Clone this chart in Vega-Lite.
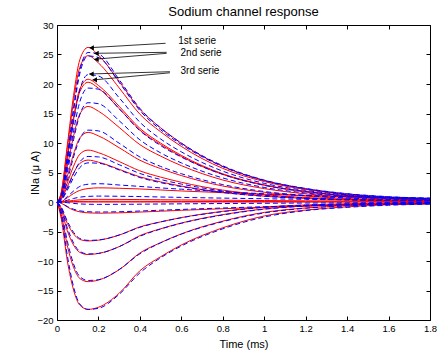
{
  "$schema": "https://vega.github.io/schema/vega-lite/v6.json",
  "width": 373,
  "height": 295,
  "autosize": {"type": "none"},
  "padding": {"left": 57, "top": 25, "right": 7, "bottom": 38},
  "background": "white",
  "title": {"text": "Sodium channel response", "font": "Liberation Sans", "fontSize": 13, "fontWeight": "normal", "color": "black", "offset": 1},
  "config": {
    "view": {"stroke": null},
    "axis": {"domainColor": "black", "tickColor": "black", "labelColor": "black", "titleColor": "black", "labelFont": "Liberation Sans", "titleFont": "Liberation Sans", "labelFontSize": 9.5, "titleFontSize": 11, "titleFontWeight": "normal", "grid": false, "tickSize": -4, "domainWidth": 1, "tickWidth": 1, "labelFlush": false, "labelOverlap": false}
  },
  "datasets": {
    "red": [
      {"c":1,"t":0,"v":0},{"c":1,"t":0.02,"v":1.57},{"c":1,"t":0.05,"v":9.69},{"c":1,"t":0.08,"v":18.08},{"c":1,"t":0.11,"v":24.1},{"c":1,"t":0.15,"v":26.2},{"c":1,"t":0.2,"v":24.89},{"c":1,"t":0.3,"v":20.44},{"c":1,"t":0.4,"v":15.72},{"c":1,"t":0.5,"v":12.58},{"c":1,"t":0.6,"v":9.96},{"c":1,"t":0.8,"v":6.03},{"c":1,"t":1.0,"v":3.67},{"c":1,"t":1.2,"v":2.23},{"c":1,"t":1.4,"v":1.31},{"c":1,"t":1.6,"v":0.79},{"c":1,"t":1.8,"v":0.52},
      {"c":2,"t":0,"v":0},{"c":2,"t":0.02,"v":1.49},{"c":2,"t":0.05,"v":9.18},{"c":2,"t":0.08,"v":17.11},{"c":2,"t":0.11,"v":22.82},{"c":2,"t":0.15,"v":24.8},{"c":2,"t":0.2,"v":23.56},{"c":2,"t":0.3,"v":19.34},{"c":2,"t":0.4,"v":14.88},{"c":2,"t":0.5,"v":11.9},{"c":2,"t":0.6,"v":9.42},{"c":2,"t":0.8,"v":5.7},{"c":2,"t":1.0,"v":3.47},{"c":2,"t":1.2,"v":2.11},{"c":2,"t":1.4,"v":1.24},{"c":2,"t":1.6,"v":0.74},{"c":2,"t":1.8,"v":0.5},
      {"c":3,"t":0,"v":0},{"c":3,"t":0.02,"v":1.25},{"c":3,"t":0.05,"v":7.7},{"c":3,"t":0.08,"v":14.35},{"c":3,"t":0.11,"v":19.14},{"c":3,"t":0.15,"v":20.8},{"c":3,"t":0.2,"v":19.76},{"c":3,"t":0.3,"v":16.22},{"c":3,"t":0.4,"v":12.48},{"c":3,"t":0.5,"v":9.98},{"c":3,"t":0.6,"v":7.9},{"c":3,"t":0.8,"v":4.78},{"c":3,"t":1.0,"v":2.91},{"c":3,"t":1.2,"v":1.77},{"c":3,"t":1.4,"v":1.04},{"c":3,"t":1.6,"v":0.62},{"c":3,"t":1.8,"v":0.42},
      {"c":4,"t":0,"v":0},{"c":4,"t":0.02,"v":1.22},{"c":4,"t":0.05,"v":7.51},{"c":4,"t":0.08,"v":14.01},{"c":4,"t":0.11,"v":18.68},{"c":4,"t":0.15,"v":20.3},{"c":4,"t":0.2,"v":19.29},{"c":4,"t":0.3,"v":15.83},{"c":4,"t":0.4,"v":12.18},{"c":4,"t":0.5,"v":9.74},{"c":4,"t":0.6,"v":7.71},{"c":4,"t":0.8,"v":4.67},{"c":4,"t":1.0,"v":2.84},{"c":4,"t":1.2,"v":1.73},{"c":4,"t":1.4,"v":1.02},{"c":4,"t":1.6,"v":0.61},{"c":4,"t":1.8,"v":0.41},
      {"c":5,"t":0,"v":0},{"c":5,"t":0.02,"v":0.97},{"c":5,"t":0.05,"v":5.99},{"c":5,"t":0.08,"v":11.18},{"c":5,"t":0.11,"v":14.9},{"c":5,"t":0.15,"v":16.2},{"c":5,"t":0.2,"v":15.39},{"c":5,"t":0.3,"v":12.64},{"c":5,"t":0.4,"v":9.72},{"c":5,"t":0.5,"v":7.78},{"c":5,"t":0.6,"v":6.16},{"c":5,"t":0.8,"v":3.73},{"c":5,"t":1.0,"v":2.27},{"c":5,"t":1.2,"v":1.38},{"c":5,"t":1.4,"v":0.81},{"c":5,"t":1.6,"v":0.49},{"c":5,"t":1.8,"v":0.32},
      {"c":6,"t":0,"v":0},{"c":6,"t":0.02,"v":0.71},{"c":6,"t":0.05,"v":4.37},{"c":6,"t":0.08,"v":8.14},{"c":6,"t":0.11,"v":10.86},{"c":6,"t":0.15,"v":11.8},{"c":6,"t":0.2,"v":11.21},{"c":6,"t":0.3,"v":9.2},{"c":6,"t":0.4,"v":7.08},{"c":6,"t":0.5,"v":5.66},{"c":6,"t":0.6,"v":4.48},{"c":6,"t":0.8,"v":2.71},{"c":6,"t":1.0,"v":1.65},{"c":6,"t":1.2,"v":1.0},{"c":6,"t":1.4,"v":0.59},{"c":6,"t":1.6,"v":0.35},{"c":6,"t":1.8,"v":0.24},
      {"c":7,"t":0,"v":0},{"c":7,"t":0.02,"v":0.53},{"c":7,"t":0.05,"v":3.26},{"c":7,"t":0.08,"v":6.07},{"c":7,"t":0.11,"v":8.1},{"c":7,"t":0.15,"v":8.8},{"c":7,"t":0.2,"v":8.36},{"c":7,"t":0.3,"v":6.86},{"c":7,"t":0.4,"v":5.28},{"c":7,"t":0.5,"v":4.22},{"c":7,"t":0.6,"v":3.34},{"c":7,"t":0.8,"v":2.02},{"c":7,"t":1.0,"v":1.23},{"c":7,"t":1.2,"v":0.75},{"c":7,"t":1.4,"v":0.44},{"c":7,"t":1.6,"v":0.26},{"c":7,"t":1.8,"v":0.18},
      {"c":8,"t":0,"v":0},{"c":8,"t":0.02,"v":0.43},{"c":8,"t":0.05,"v":2.63},{"c":8,"t":0.08,"v":4.9},{"c":8,"t":0.11,"v":6.53},{"c":8,"t":0.15,"v":7.1},{"c":8,"t":0.2,"v":6.75},{"c":8,"t":0.3,"v":5.54},{"c":8,"t":0.4,"v":4.26},{"c":8,"t":0.5,"v":3.41},{"c":8,"t":0.6,"v":2.7},{"c":8,"t":0.8,"v":1.63},{"c":8,"t":1.0,"v":0.99},{"c":8,"t":1.2,"v":0.6},{"c":8,"t":1.4,"v":0.36},{"c":8,"t":1.6,"v":0.21},{"c":8,"t":1.8,"v":0.14},
      {"c":9,"t":0,"v":0},{"c":9,"t":0.02,"v":0.07},{"c":9,"t":0.05,"v":0.72},{"c":9,"t":0.08,"v":1.44},{"c":9,"t":0.11,"v":1.97},{"c":9,"t":0.15,"v":2.28},{"c":9,"t":0.2,"v":2.4},{"c":9,"t":0.3,"v":2.33},{"c":9,"t":0.4,"v":2.21},{"c":9,"t":0.5,"v":2.04},{"c":9,"t":0.6,"v":1.87},{"c":9,"t":0.8,"v":1.58},{"c":9,"t":1.0,"v":1.32},{"c":9,"t":1.2,"v":1.08},{"c":9,"t":1.4,"v":0.89},{"c":9,"t":1.6,"v":0.72},{"c":9,"t":1.8,"v":0.6},
      {"c":10,"t":0,"v":0},{"c":10,"t":0.02,"v":0.01},{"c":10,"t":0.05,"v":0.14},{"c":10,"t":0.08,"v":0.27},{"c":10,"t":0.11,"v":0.37},{"c":10,"t":0.15,"v":0.43},{"c":10,"t":0.2,"v":0.45},{"c":10,"t":0.3,"v":0.44},{"c":10,"t":0.4,"v":0.41},{"c":10,"t":0.5,"v":0.38},{"c":10,"t":0.6,"v":0.35},{"c":10,"t":0.8,"v":0.3},{"c":10,"t":1.0,"v":0.25},{"c":10,"t":1.2,"v":0.2},{"c":10,"t":1.4,"v":0.17},{"c":10,"t":1.6,"v":0.14},{"c":10,"t":1.8,"v":0.11},
      {"c":11,"t":0,"v":0},{"c":11,"t":0.02,"v":0},{"c":11,"t":0.05,"v":0.04},{"c":11,"t":0.08,"v":0.07},{"c":11,"t":0.11,"v":0.1},{"c":11,"t":0.15,"v":0.11},{"c":11,"t":0.2,"v":0.12},{"c":11,"t":0.3,"v":0.12},{"c":11,"t":0.4,"v":0.11},{"c":11,"t":0.5,"v":0.1},{"c":11,"t":0.6,"v":0.09},{"c":11,"t":0.8,"v":0.08},{"c":11,"t":1.0,"v":0.07},{"c":11,"t":1.2,"v":0.05},{"c":11,"t":1.4,"v":0.04},{"c":11,"t":1.6,"v":0.04},{"c":11,"t":1.8,"v":0.03},
      {"c":12,"t":0,"v":0},{"c":12,"t":0.02,"v":0},{"c":12,"t":0.05,"v":0},{"c":12,"t":0.08,"v":0},{"c":12,"t":0.11,"v":0},{"c":12,"t":0.15,"v":0},{"c":12,"t":0.2,"v":0},{"c":12,"t":0.3,"v":0},{"c":12,"t":0.4,"v":0},{"c":12,"t":0.5,"v":0},{"c":12,"t":0.6,"v":0},{"c":12,"t":0.8,"v":0},{"c":12,"t":1.0,"v":0},{"c":12,"t":1.2,"v":0},{"c":12,"t":1.4,"v":0},{"c":12,"t":1.6,"v":0},{"c":12,"t":1.8,"v":0},
      {"c":13,"t":0,"v":0},{"c":13,"t":0.02,"v":-0.19},{"c":13,"t":0.05,"v":-0.86},{"c":13,"t":0.08,"v":-1.37},{"c":13,"t":0.11,"v":-1.67},{"c":13,"t":0.15,"v":-1.84},{"c":13,"t":0.2,"v":-1.9},{"c":13,"t":0.3,"v":-1.84},{"c":13,"t":0.4,"v":-1.71},{"c":13,"t":0.5,"v":-1.56},{"c":13,"t":0.6,"v":-1.41},{"c":13,"t":0.8,"v":-1.14},{"c":13,"t":1.0,"v":-0.89},{"c":13,"t":1.2,"v":-0.7},{"c":13,"t":1.4,"v":-0.55},{"c":13,"t":1.6,"v":-0.42},{"c":13,"t":1.8,"v":-0.32},
      {"c":14,"t":0,"v":0},{"c":14,"t":0.02,"v":-0.99},{"c":14,"t":0.05,"v":-3.63},{"c":14,"t":0.08,"v":-5.41},{"c":14,"t":0.11,"v":-6.34},{"c":14,"t":0.15,"v":-6.6},{"c":14,"t":0.2,"v":-6.47},{"c":14,"t":0.3,"v":-5.61},{"c":14,"t":0.4,"v":-4.22},{"c":14,"t":0.5,"v":-3.37},{"c":14,"t":0.6,"v":-2.64},{"c":14,"t":0.8,"v":-1.58},{"c":14,"t":1.0,"v":-0.86},{"c":14,"t":1.2,"v":-0.5},{"c":14,"t":1.4,"v":-0.3},{"c":14,"t":1.6,"v":-0.17},{"c":14,"t":1.8,"v":-0.1},
      {"c":15,"t":0,"v":0},{"c":15,"t":0.02,"v":-1.34},{"c":15,"t":0.05,"v":-4.9},{"c":15,"t":0.08,"v":-7.3},{"c":15,"t":0.11,"v":-8.54},{"c":15,"t":0.15,"v":-8.9},{"c":15,"t":0.2,"v":-8.72},{"c":15,"t":0.3,"v":-7.57},{"c":15,"t":0.4,"v":-5.7},{"c":15,"t":0.5,"v":-4.54},{"c":15,"t":0.6,"v":-3.56},{"c":15,"t":0.8,"v":-2.14},{"c":15,"t":1.0,"v":-1.16},{"c":15,"t":1.2,"v":-0.67},{"c":15,"t":1.4,"v":-0.4},{"c":15,"t":1.6,"v":-0.22},{"c":15,"t":1.8,"v":-0.13},
      {"c":16,"t":0,"v":0},{"c":16,"t":0.02,"v":-2.03},{"c":16,"t":0.05,"v":-7.43},{"c":16,"t":0.08,"v":-11.07},{"c":16,"t":0.11,"v":-12.96},{"c":16,"t":0.15,"v":-13.5},{"c":16,"t":0.2,"v":-13.23},{"c":16,"t":0.3,"v":-11.48},{"c":16,"t":0.4,"v":-8.64},{"c":16,"t":0.5,"v":-6.89},{"c":16,"t":0.6,"v":-5.4},{"c":16,"t":0.8,"v":-3.24},{"c":16,"t":1.0,"v":-1.76},{"c":16,"t":1.2,"v":-1.01},{"c":16,"t":1.4,"v":-0.61},{"c":16,"t":1.6,"v":-0.34},{"c":16,"t":1.8,"v":-0.2},
      {"c":17,"t":0,"v":0},{"c":17,"t":0.02,"v":-2.73},{"c":17,"t":0.05,"v":-10.01},{"c":17,"t":0.08,"v":-14.92},{"c":17,"t":0.11,"v":-17.47},{"c":17,"t":0.15,"v":-18.2},{"c":17,"t":0.2,"v":-17.84},{"c":17,"t":0.3,"v":-15.47},{"c":17,"t":0.4,"v":-11.65},{"c":17,"t":0.5,"v":-9.28},{"c":17,"t":0.6,"v":-7.28},{"c":17,"t":0.8,"v":-4.37},{"c":17,"t":1.0,"v":-2.37},{"c":17,"t":1.2,"v":-1.37},{"c":17,"t":1.4,"v":-0.82},{"c":17,"t":1.6,"v":-0.46},{"c":17,"t":1.8,"v":-0.27}
    ],
    "blue": [
      {"c":1,"t":0,"v":0},{"c":1,"t":0.02,"v":1.02},{"c":1,"t":0.05,"v":7.68},{"c":1,"t":0.08,"v":15.87},{"c":1,"t":0.11,"v":22.27},{"c":1,"t":0.15,"v":25.34},{"c":1,"t":0.2,"v":25.09},{"c":1,"t":0.3,"v":20.74},{"c":1,"t":0.4,"v":15.87},{"c":1,"t":0.5,"v":12.54},{"c":1,"t":0.6,"v":9.98},{"c":1,"t":0.8,"v":6.14},{"c":1,"t":1.0,"v":3.71},{"c":1,"t":1.2,"v":2.3},{"c":1,"t":1.4,"v":1.41},{"c":1,"t":1.6,"v":0.9},{"c":1,"t":1.8,"v":0.64},
      {"c":2,"t":0,"v":0},{"c":2,"t":0.02,"v":1.0},{"c":2,"t":0.05,"v":7.5},{"c":2,"t":0.08,"v":15.5},{"c":2,"t":0.11,"v":21.75},{"c":2,"t":0.15,"v":24.75},{"c":2,"t":0.2,"v":24.5},{"c":2,"t":0.3,"v":20.25},{"c":2,"t":0.4,"v":15.5},{"c":2,"t":0.5,"v":12.25},{"c":2,"t":0.6,"v":9.75},{"c":2,"t":0.8,"v":6.0},{"c":2,"t":1.0,"v":3.63},{"c":2,"t":1.2,"v":2.25},{"c":2,"t":1.4,"v":1.38},{"c":2,"t":1.6,"v":0.88},{"c":2,"t":1.8,"v":0.63},
      {"c":3,"t":0,"v":0},{"c":3,"t":0.02,"v":0.87},{"c":3,"t":0.05,"v":6.54},{"c":3,"t":0.08,"v":13.52},{"c":3,"t":0.11,"v":18.97},{"c":3,"t":0.15,"v":21.58},{"c":3,"t":0.2,"v":21.36},{"c":3,"t":0.3,"v":17.66},{"c":3,"t":0.4,"v":13.52},{"c":3,"t":0.5,"v":10.68},{"c":3,"t":0.6,"v":8.5},{"c":3,"t":0.8,"v":5.23},{"c":3,"t":1.0,"v":3.16},{"c":3,"t":1.2,"v":1.96},{"c":3,"t":1.4,"v":1.2},{"c":3,"t":1.6,"v":0.76},{"c":3,"t":1.8,"v":0.55},
      {"c":4,"t":0,"v":0},{"c":4,"t":0.02,"v":0.78},{"c":4,"t":0.05,"v":5.85},{"c":4,"t":0.08,"v":12.09},{"c":4,"t":0.11,"v":16.97},{"c":4,"t":0.15,"v":19.31},{"c":4,"t":0.2,"v":19.11},{"c":4,"t":0.3,"v":15.8},{"c":4,"t":0.4,"v":12.09},{"c":4,"t":0.5,"v":9.56},{"c":4,"t":0.6,"v":7.61},{"c":4,"t":0.8,"v":4.68},{"c":4,"t":1.0,"v":2.83},{"c":4,"t":1.2,"v":1.76},{"c":4,"t":1.4,"v":1.07},{"c":4,"t":1.6,"v":0.68},{"c":4,"t":1.8,"v":0.49},
      {"c":5,"t":0,"v":0},{"c":5,"t":0.02,"v":0.68},{"c":5,"t":0.05,"v":5.1},{"c":5,"t":0.08,"v":10.54},{"c":5,"t":0.11,"v":14.79},{"c":5,"t":0.15,"v":16.83},{"c":5,"t":0.2,"v":16.66},{"c":5,"t":0.3,"v":13.77},{"c":5,"t":0.4,"v":10.54},{"c":5,"t":0.5,"v":8.33},{"c":5,"t":0.6,"v":6.63},{"c":5,"t":0.8,"v":4.08},{"c":5,"t":1.0,"v":2.47},{"c":5,"t":1.2,"v":1.53},{"c":5,"t":1.4,"v":0.94},{"c":5,"t":1.6,"v":0.6},{"c":5,"t":1.8,"v":0.43},
      {"c":6,"t":0,"v":0},{"c":6,"t":0.02,"v":0.49},{"c":6,"t":0.05,"v":3.69},{"c":6,"t":0.08,"v":7.63},{"c":6,"t":0.11,"v":10.7},{"c":6,"t":0.15,"v":12.18},{"c":6,"t":0.2,"v":12.05},{"c":6,"t":0.3,"v":9.96},{"c":6,"t":0.4,"v":7.63},{"c":6,"t":0.5,"v":6.03},{"c":6,"t":0.6,"v":4.8},{"c":6,"t":0.8,"v":2.95},{"c":6,"t":1.0,"v":1.78},{"c":6,"t":1.2,"v":1.11},{"c":6,"t":1.4,"v":0.68},{"c":6,"t":1.6,"v":0.43},{"c":6,"t":1.8,"v":0.31},
      {"c":7,"t":0,"v":0},{"c":7,"t":0.02,"v":0.31},{"c":7,"t":0.05,"v":2.34},{"c":7,"t":0.08,"v":4.84},{"c":7,"t":0.11,"v":6.79},{"c":7,"t":0.15,"v":7.72},{"c":7,"t":0.2,"v":7.64},{"c":7,"t":0.3,"v":6.32},{"c":7,"t":0.4,"v":4.84},{"c":7,"t":0.5,"v":3.82},{"c":7,"t":0.6,"v":3.04},{"c":7,"t":0.8,"v":1.87},{"c":7,"t":1.0,"v":1.13},{"c":7,"t":1.2,"v":0.7},{"c":7,"t":1.4,"v":0.43},{"c":7,"t":1.6,"v":0.27},{"c":7,"t":1.8,"v":0.2},
      {"c":8,"t":0,"v":0},{"c":8,"t":0.02,"v":0.27},{"c":8,"t":0.05,"v":2.01},{"c":8,"t":0.08,"v":4.15},{"c":8,"t":0.11,"v":5.83},{"c":8,"t":0.15,"v":6.63},{"c":8,"t":0.2,"v":6.57},{"c":8,"t":0.3,"v":5.43},{"c":8,"t":0.4,"v":4.15},{"c":8,"t":0.5,"v":3.28},{"c":8,"t":0.6,"v":2.61},{"c":8,"t":0.8,"v":1.61},{"c":8,"t":1.0,"v":0.97},{"c":8,"t":1.2,"v":0.6},{"c":8,"t":1.4,"v":0.37},{"c":8,"t":1.6,"v":0.23},{"c":8,"t":1.8,"v":0.17},
      {"c":9,"t":0,"v":0},{"c":9,"t":0.02,"v":0.09},{"c":9,"t":0.05,"v":0.93},{"c":9,"t":0.08,"v":1.86},{"c":9,"t":0.11,"v":2.64},{"c":9,"t":0.15,"v":3.01},{"c":9,"t":0.2,"v":3.1},{"c":9,"t":0.3,"v":2.88},{"c":9,"t":0.4,"v":2.64},{"c":9,"t":0.5,"v":2.39},{"c":9,"t":0.6,"v":2.17},{"c":9,"t":0.8,"v":1.74},{"c":9,"t":1.0,"v":1.4},{"c":9,"t":1.2,"v":1.12},{"c":9,"t":1.4,"v":0.9},{"c":9,"t":1.6,"v":0.74},{"c":9,"t":1.8,"v":0.62},
      {"c":10,"t":0,"v":0},{"c":10,"t":0.02,"v":0.03},{"c":10,"t":0.05,"v":0.3},{"c":10,"t":0.08,"v":0.6},{"c":10,"t":0.11,"v":0.82},{"c":10,"t":0.15,"v":0.95},{"c":10,"t":0.2,"v":1.0},{"c":10,"t":0.3,"v":0.97},{"c":10,"t":0.4,"v":0.92},{"c":10,"t":0.5,"v":0.85},{"c":10,"t":0.6,"v":0.78},{"c":10,"t":0.8,"v":0.66},{"c":10,"t":1.0,"v":0.55},{"c":10,"t":1.2,"v":0.45},{"c":10,"t":1.4,"v":0.37},{"c":10,"t":1.6,"v":0.3},{"c":10,"t":1.8,"v":0.25},
      {"c":11,"t":0,"v":0},{"c":11,"t":0.02,"v":-0.01},{"c":11,"t":0.05,"v":-0.12},{"c":11,"t":0.08,"v":-0.24},{"c":11,"t":0.11,"v":-0.33},{"c":11,"t":0.15,"v":-0.38},{"c":11,"t":0.2,"v":-0.4},{"c":11,"t":0.3,"v":-0.39},{"c":11,"t":0.4,"v":-0.37},{"c":11,"t":0.5,"v":-0.34},{"c":11,"t":0.6,"v":-0.31},{"c":11,"t":0.8,"v":-0.26},{"c":11,"t":1.0,"v":-0.22},{"c":11,"t":1.2,"v":-0.18},{"c":11,"t":1.4,"v":-0.15},{"c":11,"t":1.6,"v":-0.12},{"c":11,"t":1.8,"v":-0.1},
      {"c":12,"t":0,"v":0},{"c":12,"t":0.02,"v":-0.17},{"c":12,"t":0.05,"v":-0.77},{"c":12,"t":0.08,"v":-1.22},{"c":12,"t":0.11,"v":-1.5},{"c":12,"t":0.15,"v":-1.65},{"c":12,"t":0.2,"v":-1.7},{"c":12,"t":0.3,"v":-1.65},{"c":12,"t":0.4,"v":-1.53},{"c":12,"t":0.5,"v":-1.39},{"c":12,"t":0.6,"v":-1.26},{"c":12,"t":0.8,"v":-1.02},{"c":12,"t":1.0,"v":-0.8},{"c":12,"t":1.2,"v":-0.63},{"c":12,"t":1.4,"v":-0.49},{"c":12,"t":1.6,"v":-0.37},{"c":12,"t":1.8,"v":-0.29},
      {"c":13,"t":0,"v":0},{"c":13,"t":0.02,"v":-0.78},{"c":13,"t":0.05,"v":-3.25},{"c":13,"t":0.08,"v":-5.14},{"c":13,"t":0.11,"v":-6.18},{"c":13,"t":0.15,"v":-6.5},{"c":13,"t":0.2,"v":-6.44},{"c":13,"t":0.3,"v":-5.59},{"c":13,"t":0.4,"v":-4.29},{"c":13,"t":0.5,"v":-3.38},{"c":13,"t":0.6,"v":-2.67},{"c":13,"t":0.8,"v":-1.63},{"c":13,"t":1.0,"v":-0.91},{"c":13,"t":1.2,"v":-0.52},{"c":13,"t":1.4,"v":-0.33},{"c":13,"t":1.6,"v":-0.2},{"c":13,"t":1.8,"v":-0.13},
      {"c":14,"t":0,"v":0},{"c":14,"t":0.02,"v":-1.06},{"c":14,"t":0.05,"v":-4.4},{"c":14,"t":0.08,"v":-6.95},{"c":14,"t":0.11,"v":-8.36},{"c":14,"t":0.15,"v":-8.8},{"c":14,"t":0.2,"v":-8.71},{"c":14,"t":0.3,"v":-7.57},{"c":14,"t":0.4,"v":-5.81},{"c":14,"t":0.5,"v":-4.58},{"c":14,"t":0.6,"v":-3.61},{"c":14,"t":0.8,"v":-2.2},{"c":14,"t":1.0,"v":-1.23},{"c":14,"t":1.2,"v":-0.7},{"c":14,"t":1.4,"v":-0.44},{"c":14,"t":1.6,"v":-0.26},{"c":14,"t":1.8,"v":-0.18},
      {"c":15,"t":0,"v":0},{"c":15,"t":0.02,"v":-1.6},{"c":15,"t":0.05,"v":-6.65},{"c":15,"t":0.08,"v":-10.51},{"c":15,"t":0.11,"v":-12.64},{"c":15,"t":0.15,"v":-13.3},{"c":15,"t":0.2,"v":-13.17},{"c":15,"t":0.3,"v":-11.44},{"c":15,"t":0.4,"v":-8.78},{"c":15,"t":0.5,"v":-6.92},{"c":15,"t":0.6,"v":-5.45},{"c":15,"t":0.8,"v":-3.33},{"c":15,"t":1.0,"v":-1.86},{"c":15,"t":1.2,"v":-1.06},{"c":15,"t":1.4,"v":-0.67},{"c":15,"t":1.6,"v":-0.4},{"c":15,"t":1.8,"v":-0.27},
      {"c":16,"t":0,"v":0},{"c":16,"t":0.02,"v":-2.18},{"c":16,"t":0.05,"v":-9.1},{"c":16,"t":0.08,"v":-14.38},{"c":16,"t":0.11,"v":-17.29},{"c":16,"t":0.15,"v":-18.2},{"c":16,"t":0.2,"v":-18.02},{"c":16,"t":0.3,"v":-15.65},{"c":16,"t":0.4,"v":-12.01},{"c":16,"t":0.5,"v":-9.46},{"c":16,"t":0.6,"v":-7.46},{"c":16,"t":0.8,"v":-4.55},{"c":16,"t":1.0,"v":-2.55},{"c":16,"t":1.2,"v":-1.46},{"c":16,"t":1.4,"v":-0.91},{"c":16,"t":1.6,"v":-0.55},{"c":16,"t":1.8,"v":-0.36}
    ],
    "arrows": [
      {"a":1,"x":0.524,"y":26.9},{"a":1,"x":0.157,"y":26.15},
      {"a":2,"x":0.529,"y":25.37},{"a":2,"x":0.18,"y":25.2},
      {"a":3,"x":0.529,"y":25.2},{"a":3,"x":0.18,"y":24.19},
      {"a":4,"x":0.545,"y":22.08},{"a":4,"x":0.156,"y":21.7},
      {"a":5,"x":0.545,"y":21.9},{"a":5,"x":0.172,"y":20.68}
    ],
    "heads": [
      {"x":0.167,"y":26.13},{"x":0.19,"y":25.18},{"x":0.19,"y":24.16},{"x":0.166,"y":21.69},{"x":0.182,"y":20.71}
    ],
    "labels": [
      {"x":0.585,"y":27.3,"s":"1st serie"},
      {"x":0.596,"y":25.25,"s":"2nd serie"},
      {"x":0.596,"y":22.2,"s":"3rd serie"}
    ]
  },
  "layer": [
    {
      "data": {"name": "red"},
      "mark": {"type": "line", "color": "#ff0000", "strokeWidth": 1, "interpolate": "monotone"},
      "encoding": {
        "x": {"field": "t", "type": "quantitative", "scale": {"domain": [0, 1.8], "nice": false, "zero": false},
              "axis": {"orient": "bottom", "values": [0, 0.2, 0.4, 0.6, 0.8, 1, 1.2, 1.4, 1.6, 1.8], "format": "~g", "title": "Time (ms)", "labelPadding": 7, "titlePadding": 6}},
        "y": {"field": "v", "type": "quantitative", "scale": {"domain": [-20, 30], "nice": false, "zero": false},
              "axis": {"orient": "left", "values": [-20, -15, -10, -5, 0, 5, 10, 15, 20, 25, 30], "format": "~g", "title": "INa (μ A)", "labelPadding": 8, "titlePadding": -4}},
        "detail": {"field": "c", "type": "nominal"}
      }
    },
    {
      "data": {"name": "blue"},
      "mark": {"type": "line", "color": "#0000ff", "strokeWidth": 1, "strokeDash": [5, 3], "interpolate": "monotone"},
      "encoding": {
        "x": {"field": "t", "type": "quantitative", "axis": {"orient": "top", "values": [0, 0.2, 0.4, 0.6, 0.8, 1, 1.2, 1.4, 1.6, 1.8], "labels": false, "title": null}},
        "y": {"field": "v", "type": "quantitative", "axis": {"orient": "right", "values": [-20, -15, -10, -5, 0, 5, 10, 15, 20, 25, 30], "labels": false, "title": null}},
        "detail": {"field": "c", "type": "nominal"}
      }
    },
    {
      "data": {"name": "arrows"},
      "mark": {"type": "line", "color": "black", "strokeWidth": 0.8},
      "encoding": {
        "x": {"field": "x", "type": "quantitative", "axis": null},
        "y": {"field": "y", "type": "quantitative", "axis": null},
        "detail": {"field": "a", "type": "nominal"}
      }
    },
    {
      "data": {"name": "heads"},
      "mark": {"type": "point", "shape": "triangle-left", "filled": true, "color": "black", "size": 28, "opacity": 1},
      "encoding": {
        "x": {"field": "x", "type": "quantitative", "axis": null},
        "y": {"field": "y", "type": "quantitative", "axis": null}
      }
    },
    {
      "data": {"name": "labels"},
      "mark": {"type": "text", "align": "left", "baseline": "middle", "font": "Liberation Sans", "fontSize": 10, "color": "black"},
      "encoding": {
        "x": {"field": "x", "type": "quantitative", "axis": null},
        "y": {"field": "y", "type": "quantitative", "axis": null},
        "text": {"field": "s", "type": "nominal"}
      }
    }
  ],
  "resolve": {"axis": {"x": "independent", "y": "independent"}}
}
